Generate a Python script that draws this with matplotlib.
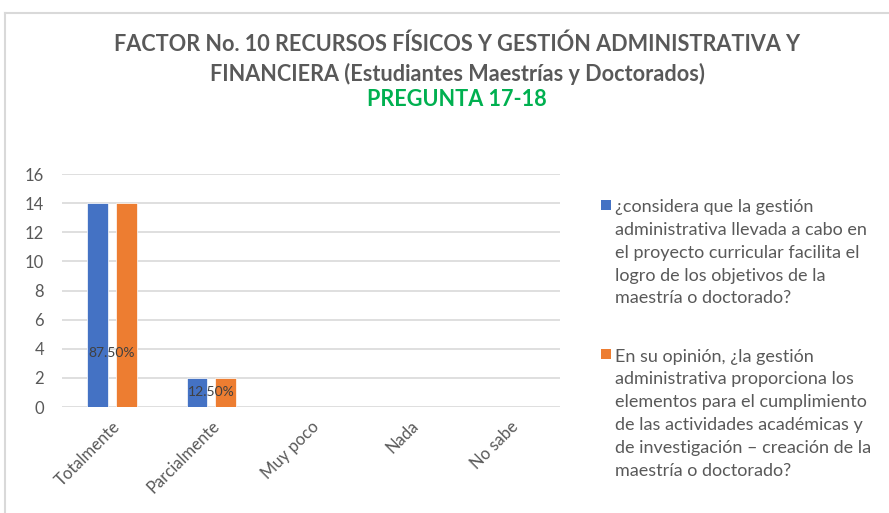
import matplotlib
matplotlib.use("Agg")
import matplotlib.pyplot as plt
from matplotlib.patches import Rectangle
from matplotlib.lines import Line2D
from matplotlib.legend_handler import HandlerPatch
from matplotlib.container import BarContainer

categories = ["Totalmente", "Parcialmente", "Muy poco", "Nada", "No sabe"]
serie1 = [14, 2, 0, 0, 0]
serie2 = [14, 2, 0, 0, 0]
pct_labels = ["87.50%", "12.50%", "", "", ""]
serie1_name = ("¿considera que la gestión\nadministrativa llevada a cabo en\n"
               "el proyecto curricular facilita el\nlogro de los objetivos de la\n"
               "maestría o doctorado?")
serie2_name = ("En su opinión, ¿la gestión\nadministrativa proporciona los\n"
               "elementos para el cumplimiento\nde las actividades académicas y\n"
               "de investigación – creación de la\nmaestría o doctorado?")
title_main = ("FACTOR No. 10 RECURSOS FÍSICOS Y GESTIÓN ADMINISTRATIVA Y\n"
              "FINANCIERA (Estudiantes Maestrías y Doctorados)")
title_sub = "PREGUNTA 17-18"
yticks = [0, 2, 4, 6, 8, 10, 12, 14, 16]

plt.rcParams['font.family'] = ['Lato', 'DejaVu Sans']
GREY = "#595959"
BLUE = "#4472C4"
ORANGE = "#ED7D31"

W, H = 889, 513
fig = plt.figure(figsize=(W / 100, H / 100), dpi=100)
fig.patch.set_facecolor("white")

# chart border (top and left visible)
fig.add_artist(Line2D([5 / W, 5 / W], [0, 1 - 13 / H], color="#d9d9d9", lw=1.5,
                      transform=fig.transFigure))
fig.add_artist(Line2D([5 / W, 1], [1 - 13 / H, 1 - 13 / H], color="#d9d9d9", lw=1.5,
                      transform=fig.transFigure))

ax = fig.add_axes([62 / W, 1 - 407 / H, (560 - 62) / W, (407 - 174) / H])
x = list(range(len(categories)))
bw = 0.21
off = 0.145
b1 = ax.bar([i - off for i in x], serie1, width=bw, color=BLUE, label=serie1_name,
            edgecolor="white", linewidth=0.5, zorder=3)
b2 = ax.bar([i + off for i in x], serie2, width=bw, color=ORANGE, label=serie2_name,
            edgecolor="white", linewidth=0.5, zorder=3)

for i, (v, lab) in enumerate(zip(serie1, pct_labels)):
    if lab:
        ax.text(i, min(v / 2, 3.7), lab, ha="center", va="center", fontsize=10,
                color="#404040", zorder=4)

ax.set_xlim(-0.5, len(categories) - 0.5)
ax.set_ylim(0, 16)
ax.set_yticks(yticks)
ax.set_yticklabels([str(t) for t in yticks], fontsize=12, color=GREY)
ax.set_xticks(x)
ax.set_xticklabels(categories, rotation=45, ha="right", rotation_mode="anchor",
                   fontsize=12, color=GREY)
ax.tick_params(axis="both", length=0)
ax.tick_params(axis="y", pad=13)
ax.tick_params(axis="x", pad=8)
ax.grid(axis="y", color="#d9d9d9", linewidth=1.2, zorder=0)
for s in ax.spines.values():
    s.set_visible(False)

fig.text(0.514, 1 - 59 / H, title_main, ha="center", va="center", fontsize=15.6,
         fontweight="bold", color=GREY, linespacing=1.45)
fig.text(0.514, 1 - 100 / H, title_sub, ha="center", va="center", fontsize=15.6,
         fontweight="bold", color="#00B050")

LFS = 13
LS = 1.52


def top_square(legend, orig_handle, xdescent, ydescent, width, height, fontsize):
    n = orig_handle.get_label().count("\n")
    s = 0.55 * fontsize
    return Rectangle((width - s, height / 2 - s / 2 + n * LS * fontsize * 0.435), s, s)


def copy_style(legend_handle, orig_handle):
    first = next(iter(orig_handle.get_children()), None)
    if first is not None:
        legend_handle.update_from(first)
    legend_handle.set_edgecolor("none")


leg = fig.legend(handles=[b1, b2], loc="upper left", bbox_to_anchor=(581 / W, 1 - 183 / H),
                 frameon=False, fontsize=LFS, labelspacing=2.35, handlelength=0.75,
                 handletextpad=0.22, labelcolor=GREY,
                 handler_map={BarContainer: HandlerPatch(patch_func=top_square,
                                                         update_func=copy_style)})
for t in leg.get_texts():
    t.set_linespacing(LS)

fig.savefig("out.png", dpi=100, facecolor="white")
